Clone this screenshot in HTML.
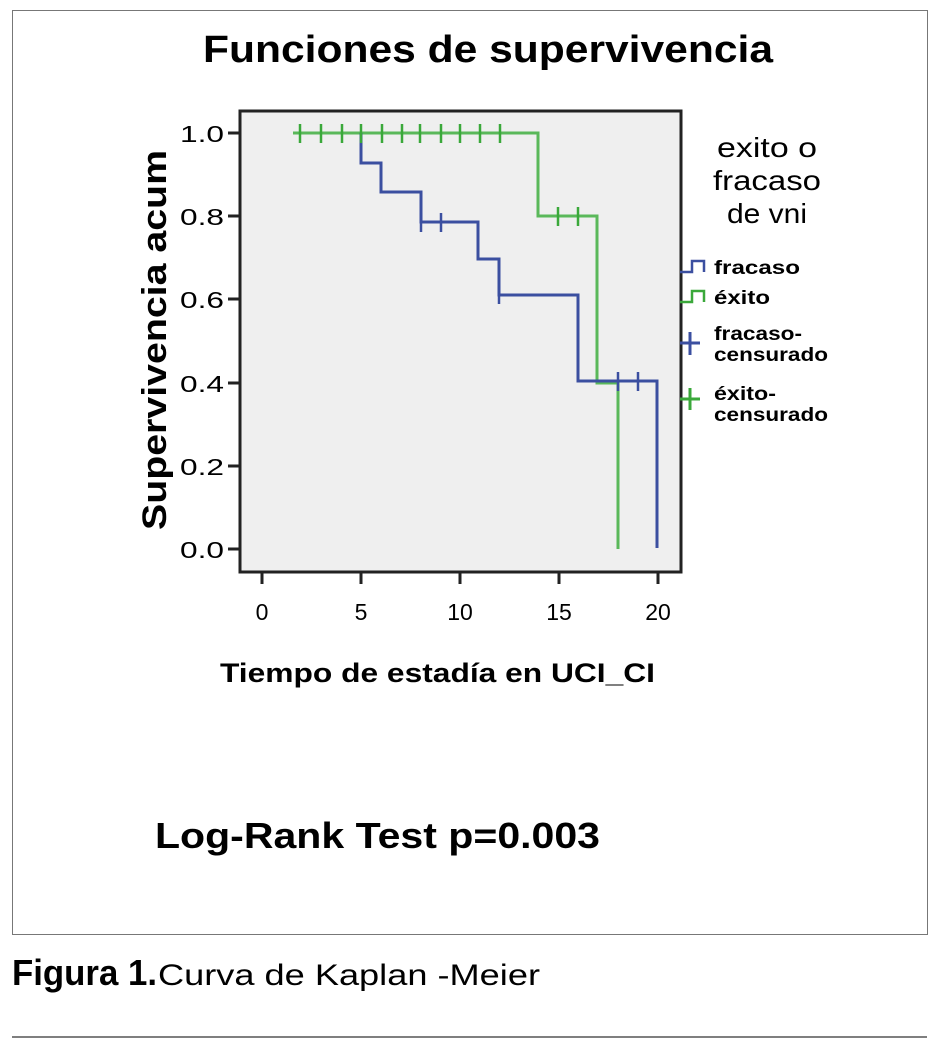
<!DOCTYPE html>
<html><head><meta charset="utf-8"><style>
body{margin:0;background:#fff;width:938px;height:1056px;position:relative;font-family:"Liberation Sans",sans-serif;}
</style></head><body>
<div style="position:absolute;left:12px;top:10px;width:914px;height:923px;border:1px solid #777;"></div>
<svg width="938" height="1056" style="position:absolute;left:0;top:0" font-family="Liberation Sans, sans-serif">
<text x="203" y="62" font-size="38" font-weight="bold" textLength="570" lengthAdjust="spacingAndGlyphs">Funciones de supervivencia</text>
<rect x="240" y="111" width="441" height="461" fill="#efefef" stroke="#222" stroke-width="3"/>
<g stroke="#222" stroke-width="3">
<line x1="228" y1="133" x2="240" y2="133"/><line x1="228" y1="216" x2="240" y2="216"/><line x1="228" y1="299" x2="240" y2="299"/><line x1="228" y1="383" x2="240" y2="383"/><line x1="228" y1="466" x2="240" y2="466"/><line x1="228" y1="549" x2="240" y2="549"/>
<line x1="262" y1="572" x2="262" y2="584"/><line x1="361" y1="572" x2="361" y2="584"/><line x1="460" y1="572" x2="460" y2="584"/><line x1="559" y1="572" x2="559" y2="584"/><line x1="658" y1="572" x2="658" y2="584"/>
</g>
<g font-size="23" text-anchor="end">
<text x="224" y="142" textLength="44" lengthAdjust="spacingAndGlyphs">1.0</text><text x="224" y="225" textLength="44" lengthAdjust="spacingAndGlyphs">0.8</text><text x="224" y="308" textLength="44" lengthAdjust="spacingAndGlyphs">0.6</text><text x="224" y="392" textLength="44" lengthAdjust="spacingAndGlyphs">0.4</text><text x="224" y="475" textLength="44" lengthAdjust="spacingAndGlyphs">0.2</text><text x="224" y="558" textLength="44" lengthAdjust="spacingAndGlyphs">0.0</text>
</g>
<g font-size="23" text-anchor="middle">
<text x="262" y="620">0</text><text x="361" y="620">5</text><text x="460" y="620">10</text><text x="559" y="620">15</text><text x="658" y="620">20</text>
</g>
<text transform="translate(166,530) rotate(-90)" font-size="34" font-weight="bold" textLength="380" lengthAdjust="spacingAndGlyphs">Supervivencia acum</text>
<text x="220" y="682" font-size="27" font-weight="bold" textLength="435" lengthAdjust="spacingAndGlyphs">Tiempo de estadía en UCI_CI</text>
<polyline fill="none" stroke="#5ab85a" stroke-width="3" points="293,133 538,133 538,216 597,216 597,383 618,383 618,549"/>
<polyline fill="none" stroke="#3b4fa0" stroke-width="3" points="361,133 361,163 381,163 381,192 421,192 421,222 478,222 478,259 499,259 499,295 578,295 578,381 657,381 657,548"/>
<g stroke="#3aa83a" stroke-width="2.5">
<line x1="300" y1="124" x2="300" y2="143"/><line x1="321" y1="124" x2="321" y2="143"/><line x1="342" y1="124" x2="342" y2="143"/><line x1="361" y1="124" x2="361" y2="143"/><line x1="382" y1="124" x2="382" y2="143"/><line x1="402" y1="124" x2="402" y2="143"/><line x1="420" y1="124" x2="420" y2="143"/><line x1="441" y1="124" x2="441" y2="143"/><line x1="460" y1="124" x2="460" y2="143"/><line x1="480" y1="124" x2="480" y2="143"/><line x1="500" y1="124" x2="500" y2="143"/>
<line x1="558" y1="207" x2="558" y2="226"/><line x1="578" y1="207" x2="578" y2="226"/>
</g>
<g stroke="#3b4fa0" stroke-width="2.5">
<line x1="421" y1="213" x2="421" y2="232"/><line x1="441" y1="213" x2="441" y2="232"/><line x1="499" y1="286" x2="499" y2="304"/><line x1="618" y1="372" x2="618" y2="391"/><line x1="638" y1="372" x2="638" y2="391"/>
</g>
<g font-size="28" text-anchor="middle">
<text x="767" y="157" textLength="100" lengthAdjust="spacingAndGlyphs">exito o</text><text x="767" y="190" textLength="108" lengthAdjust="spacingAndGlyphs">fracaso</text><text x="767" y="223" textLength="80" lengthAdjust="spacingAndGlyphs">de vni</text>
</g>
<polyline fill="none" stroke="#3b4fa0" stroke-width="2.5" points="680,272 692,272 692,261 704,261 704,272"/>
<polyline fill="none" stroke="#3aa83a" stroke-width="2.5" points="680,302 692,302 692,291 704,291 704,302"/>
<g stroke="#3b4fa0" stroke-width="3"><line x1="680" y1="343" x2="700" y2="343"/><line x1="690" y1="332" x2="690" y2="355"/></g>
<g stroke="#3aa83a" stroke-width="3"><line x1="680" y1="399" x2="700" y2="399"/><line x1="690" y1="388" x2="690" y2="410"/></g>
<g font-size="19" font-weight="bold">
<text x="714" y="274" textLength="86" lengthAdjust="spacingAndGlyphs">fracaso</text><text x="714" y="304" textLength="56" lengthAdjust="spacingAndGlyphs">éxito</text>
<text x="714" y="340" textLength="88" lengthAdjust="spacingAndGlyphs">fracaso-</text><text x="714" y="361" textLength="114" lengthAdjust="spacingAndGlyphs">censurado</text>
<text x="714" y="400" textLength="62" lengthAdjust="spacingAndGlyphs">éxito-</text><text x="714" y="421" textLength="114" lengthAdjust="spacingAndGlyphs">censurado</text>
</g>
<text x="155" y="848" font-size="36" font-weight="bold" textLength="445" lengthAdjust="spacingAndGlyphs">Log-Rank Test p=0.003</text>
<text x="12" y="985" font-size="36" font-weight="bold" textLength="145" lengthAdjust="spacingAndGlyphs">Figura 1.</text>
<text x="158" y="985" font-size="30" textLength="382" lengthAdjust="spacingAndGlyphs">Curva de Kaplan -Meier</text>
<line x1="12" y1="1037" x2="927" y2="1037" stroke="#555" stroke-width="1.5"/>
</svg>
</body></html>
